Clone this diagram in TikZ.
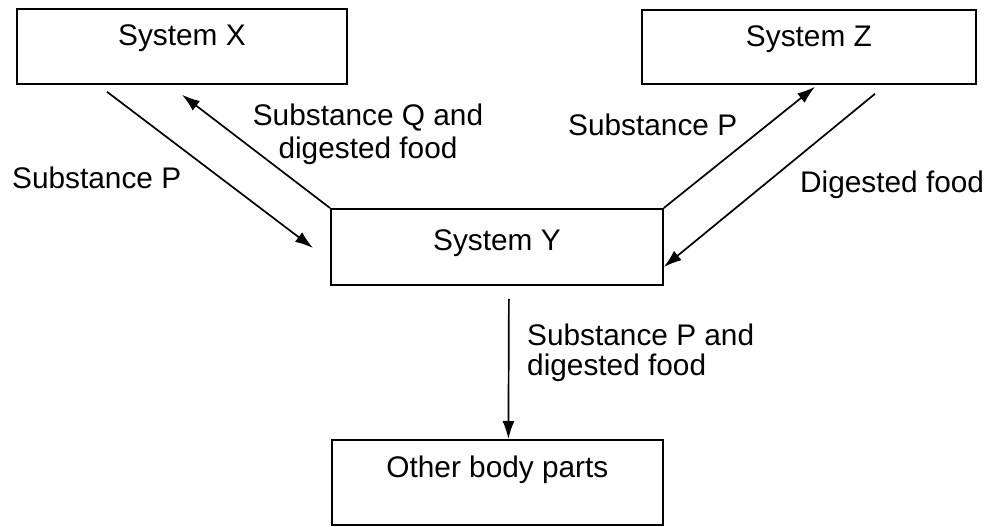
\documentclass[tikz,border=0pt]{standalone}
\usepackage{fontspec}
\setmainfont{Liberation Sans}
\usetikzlibrary{arrows.meta,calc}
\begin{document}
\begin{tikzpicture}[x=1pt,y=-1pt,
  every node/.style={font=\fontsize{29.8}{34}\selectfont, inner sep=0pt},
  sysbox/.style={draw, line width=1.8pt, rectangle, inner xsep=0pt, inner ysep=0pt, anchor=north west},
  flow/.style={line width=1.7pt, -{Latex[length=18pt,width=12pt]}},
  lbl/.style={anchor=base west, align=left}
]
\useasboundingbox (0,0) rectangle (991,527);
\node[sysbox, minimum width=330pt, text height=37pt, text depth=38pt] (X) at (16,8) {System X};
\node[sysbox, minimum width=334pt, text height=37pt, text depth=37pt] (Z) at (641,9) {System Z};
\node[sysbox, minimum width=332pt, text height=42pt, text depth=34pt] (Y) at (330,208) {System Y};
\node[sysbox, minimum width=331pt, text height=38pt, text depth=47pt] (O) at (331,439) {Other body parts};

\draw[flow] ($(X.south west)+(91,7)$) -- ($(Y.north west)+(-17,40)$);
\draw[flow] (Y.north west) -- ($(X.south west)+(166,10)$);
\draw[flow] (Y.north east) -- ($(Z.south west)+(174,2)$);
\draw[flow] ($(Z.south west)+(234,9)$) -- ($(Y.north east)+(0,59)$);
\draw[flow] ($(Y.south)+(12,13)$) -- ($(O.north)+(11,0)$);

\node[lbl] (l1) at (12,188) {Substance P};
\node[anchor=base, align=center] (l2) at (368,158) {Substance Q and\\[-1pt]digested food};
\node[lbl] (l3) at (568,135) {Substance P};
\node[lbl] (l4) at (800,192) {Digested food};
\node[lbl] (l5) at (527,375) {Substance P and\\[-4pt]digested food};
\end{tikzpicture}
\end{document}
